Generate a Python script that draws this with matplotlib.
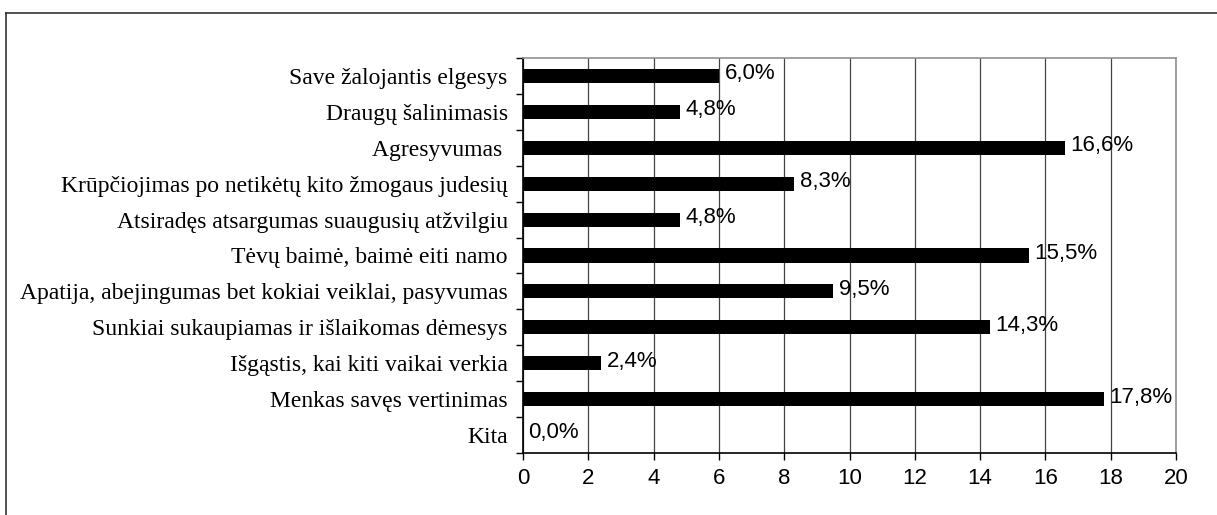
import matplotlib.pyplot as plt
import numpy as np
from matplotlib.lines import Line2D

# categories top to bottom
categories = [
    "Save žalojantis elgesys",
    "Draugų šalinimasis",
    "Agresyvumas ",
    "Krūpčiojimas po netikėtų kito žmogaus judesių",
    "Atsiradęs atsargumas suaugusių atžvilgiu",
    "Tėvų baimė, baimė eiti namo",
    "Apatija, abejingumas bet kokiai veiklai, pasyvumas",
    "Sunkiai sukaupiamas ir išlaikomas dėmesys",
    "Išgąstis, kai kiti vaikai verkia",
    "Menkas savęs vertinimas",
    "Kita",
]
values = [6.0, 4.8, 16.6, 8.3, 4.8, 15.5, 9.5, 14.3, 2.4, 17.8, 0.0]
value_labels = ["6,0%", "4,8%", "16,6%", "8,3%", "4,8%", "15,5%", "9,5%",
                "14,3%", "2,4%", "17,8%", "0,0%"]
xticks = [0, 2, 4, 6, 8, 10, 12, 14, 16, 18, 20]

W, H = 1217, 515
fig = plt.figure(figsize=(W / 100, H / 100), dpi=100)
ax = fig.add_axes([523 / W, 1 - 453 / H, (1176 - 523) / W, (453 - 58) / H])

n = len(categories)
ypos = np.arange(n)[::-1]  # first category on top

ax.barh(ypos, values, height=0.39, color='black', zorder=3)

for y, v, lab in zip(ypos, values, value_labels):
    ax.annotate(lab, (v, y), xytext=(4, 1.5), textcoords='offset points',
                ha='left', va='center', fontsize=16, family='Liberation Sans', zorder=4)

ax.set_xlim(0, 20)
ax.set_ylim(-0.5, n - 0.5)
ax.set_xticks(xticks)
ax.set_xticklabels([str(t) for t in xticks], family='Liberation Sans', fontsize=16)
ax.tick_params(axis='x', direction='out', length=5, width=1, pad=6, color='black')

ax.set_yticks(ypos)
ax.set_yticklabels(categories, family='Liberation Serif', fontsize=17)
ax.tick_params(axis='y', which='major', length=0, pad=11)
ax.set_yticks(np.arange(-0.5, n, 1), minor=True)
ax.tick_params(axis='y', which='minor', direction='out', length=5, width=1, color='black')

ax.grid(axis='x', color='#444444', linewidth=0.9, zorder=1)
ax.grid(axis='y', visible=False)

ax.spines['left'].set_color('black')
ax.spines['bottom'].set_color('black')
ax.spines['top'].set_color('#909090')
ax.spines['right'].set_color('#909090')
for s in ax.spines.values():
    s.set_linewidth(1.2)

# outer chart frame (left and top edges visible)
fig.add_artist(Line2D([6 / W, 6 / W], [0, 1 - 13 / H], transform=fig.transFigure,
                      color='#333333', linewidth=1.2))
fig.add_artist(Line2D([6 / W, 1], [1 - 13 / H, 1 - 13 / H], transform=fig.transFigure,
                      color='#333333', linewidth=1.2))

fig.savefig('out.png', dpi=100)
